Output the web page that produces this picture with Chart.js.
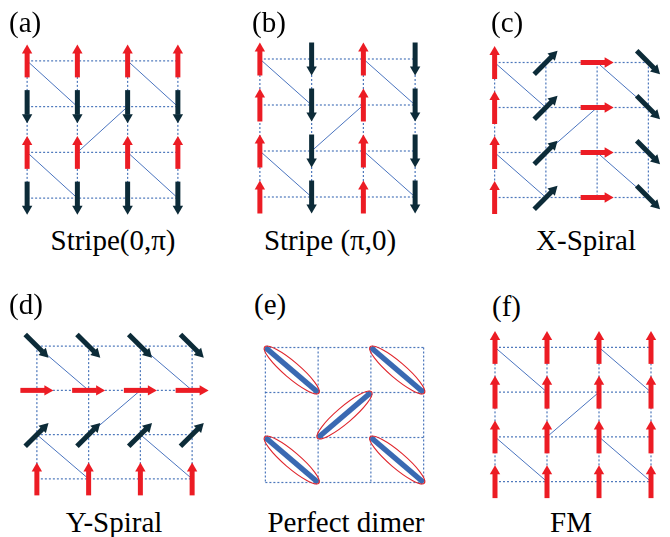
<!DOCTYPE html>
<html>
<head>
<meta charset="utf-8">
<script src="https://cdn.jsdelivr.net/npm/chart.js@4.4.1/dist/chart.umd.min.js"></script>
<style>
  html, body { margin: 0; padding: 0; background: #fff; }
  body { width: 670px; height: 537px; position: relative; overflow: hidden;
         font-family: "Liberation Serif", "DejaVu Serif", serif; color: #000; }
  .panel { position: absolute; }
  .tag, .cap { position: absolute; font-size: 29px; line-height: 29px; white-space: nowrap; }
  .cap { transform: translateX(-50%); }
</style>
</head>
<body>
<script>
// ---- lattice data -------------------------------------------------------
const panelTags = ['(a)', '(b)', '(c)', '(d)', '(e)', '(f)'];
const captions  = ['Stripe(0,π)', 'Stripe (π,0)', 'X-Spiral', 'Y-Spiral', 'Perfect dimer', 'FM'];

const latticeCols = [0, 1, 2, 3];
const latticeRows = [0, 1, 2, 3];

// spin directions in degrees (0 = +x, 90 = up); one array per row, top row first
const spinsStripe0Pi = [[90, 90, 90, 90], [270, 270, 270, 270], [90, 90, 90, 90], [270, 270, 270, 270]];
const spinsStripePi0 = [[90, 270, 90, 270], [90, 270, 90, 270], [90, 270, 90, 270], [90, 270, 90, 270]];
const spinsXSpiral   = [[90, 45, 0, -45], [90, 45, 0, -45], [90, 45, 0, -45], [90, 45, 0, -45]];
const spinsYSpiral   = [[-45, -45, -45, -45], [0, 0, 0, 0], [45, 45, 45, 45], [90, 90, 90, 90]];
const spinsFM        = [[90, 90, 90, 90], [90, 90, 90, 90], [90, 90, 90, 90], [90, 90, 90, 90]];

// diagonal (dimer) bonds: [col1, row1, col2, row2]
const dimerBonds = [[0, 0, 1, 1], [2, 0, 3, 1], [1, 2, 2, 1], [0, 2, 1, 3], [2, 2, 3, 3]];

// ---- styling --------------------------------------------------------------
const RED = '#ec1c24';
const NAVY = '#0c2b38';
const GRID = 'rgba(45, 95, 175, 0.85)';
const BOND = '#4a74bf';
const DIMER = '#3a69b2';
const RING = '#e0262d';

// up / right spins are red, the rest dark
const spinColor = a => (a === 0 || a === 90) ? RED : NAVY;

// panel layout: pixel position of column 0 / 3 and row 0 / 3, tag and caption anchors
const layout = [
  { box: [27, 178, 61, 198],  tag: [9, 8],     cap: [113, 226] },
  { box: [260, 415, 59, 197], tag: [252, 8],   cap: [330, 226] },
  { box: [495, 649, 62, 197], tag: [491, 8],   cap: [586, 226] },
  { box: [37, 192, 346, 479], tag: [9, 290],   cap: [114, 508] },
  { box: [265, 423, 347, 482], tag: [254, 290], cap: [346, 508] },
  { box: [495, 651, 347, 481], tag: [492, 292], cap: [571, 508] }
];
const panelSpins = [spinsStripe0Pi, spinsStripePi0, spinsXSpiral, spinsYSpiral, null, spinsFM];

// ---- drawing helpers ------------------------------------------------------
function drawArrow(ctx, x, y, deg, color) {
  const L = 33, head = 9, hw = 5.2, sw = 5;
  const t = deg * Math.PI / 180;
  const ux = Math.cos(t), uy = -Math.sin(t);
  const tx = x - ux * L / 2, ty = y - uy * L / 2;
  const px = x + ux * L / 2, py = y + uy * L / 2;
  const bx = px - ux * head, by = py - uy * head;
  ctx.save();
  ctx.strokeStyle = color;
  ctx.fillStyle = color;
  ctx.lineWidth = sw;
  ctx.lineCap = 'butt';
  ctx.beginPath();
  ctx.moveTo(tx, ty);
  ctx.lineTo(bx + ux * 0.6, by + uy * 0.6);
  ctx.stroke();
  ctx.beginPath();
  ctx.moveTo(px, py);
  ctx.lineTo(bx - uy * hw, by + ux * hw);
  ctx.lineTo(bx + uy * hw, by - ux * hw);
  ctx.closePath();
  ctx.fill();
  ctx.restore();
}

// draws spin arrows on the site dataset and rings round the dimer bonds
const latticeDecor = {
  id: 'latticeDecor',
  afterDatasetsDraw(chart) {
    const ctx = chart.ctx;
    chart.data.datasets.forEach((ds, i) => {
      const meta = chart.getDatasetMeta(i);
      if (ds.kind === 'sites') {
        meta.data.forEach((pt, j) => {
          const a = ds.data[j].a;
          drawArrow(ctx, pt.x, pt.y, a, spinColor(a));
        });
      }
      if (ds.kind === 'ring') {
        const p = meta.data[0], q = meta.data[1];
        const mx = (p.x + q.x) / 2, my = (p.y + q.y) / 2;
        const half = Math.hypot(q.x - p.x, q.y - p.y) / 2;
        ctx.save();
        ctx.strokeStyle = RING;
        ctx.lineWidth = 1.1;
        ctx.beginPath();
        ctx.ellipse(mx, my, half + 1, 8, Math.atan2(q.y - p.y, q.x - p.x), 0, Math.PI * 2);
        ctx.stroke();
        ctx.restore();
      }
    });
  }
};

function seg(x1, y1, x2, y2, extra) {
  return Object.assign({
    type: 'line',
    data: [{ x: x1, y: y1 }, { x: x2, y: y2 }],
    pointRadius: 0,
    pointHoverRadius: 0,
    fill: false,
    tension: 0,
    clip: false
  }, extra);
}

function buildDatasets(spins) {
  const ds = [];
  const dimerPanel = !spins;
  dimerBonds.forEach(b => {
    if (dimerPanel) {
      ds.push(seg(b[0], b[1], b[2], b[3], { kind: 'ring', borderColor: DIMER, borderWidth: 5.5, borderCapStyle: 'butt' }));
    } else {
      ds.push(seg(b[0], b[1], b[2], b[3], { borderColor: BOND, borderWidth: 1 }));
    }
  });
  latticeRows.forEach(r => ds.push(seg(latticeCols[0], r, latticeCols[latticeCols.length - 1], r,
    { borderColor: GRID, borderWidth: 1.2, borderDash: [2, 2] })));
  latticeCols.forEach(c => ds.push(seg(c, latticeRows[0], c, latticeRows[latticeRows.length - 1],
    { borderColor: GRID, borderWidth: 1.2, borderDash: [2, 2] })));
  if (spins) {
    const pts = [];
    latticeRows.forEach(r => latticeCols.forEach(c => pts.push({ x: c, y: r, a: spins[r][c] })));
    ds.push({ type: 'scatter', kind: 'sites', data: pts, pointRadius: 0, pointHoverRadius: 0, clip: false });
  }
  return ds;
}

// ---- build the six panels -------------------------------------------------
layout.forEach((lay, k) => {
  const [x0, x3, y0, y3] = lay.box;
  const sx = (x3 - x0) / 3, sy = (y3 - y0) / 3;
  const div = document.createElement('div');
  div.className = 'panel';
  const w = Math.round(4 * sx), h = Math.round(4 * sy);
  div.style.left = (x0 - 0.5 * sx) + 'px';
  div.style.top = (y0 - 0.5 * sy) + 'px';
  const cv = document.createElement('canvas');
  cv.width = w; cv.height = h;
  cv.style.width = w + 'px'; cv.style.height = h + 'px';
  div.appendChild(cv);
  document.body.appendChild(div);

  new Chart(cv, {
    type: 'scatter',
    data: { datasets: buildDatasets(panelSpins[k]) },
    options: {
      responsive: false,
      animation: false,
      devicePixelRatio: 1,
      layout: { padding: 0 },
      events: [],
      plugins: { legend: { display: false }, tooltip: { enabled: false } },
      scales: {
        x: { type: 'linear', min: -0.5, max: 3.5, display: false },
        y: { type: 'linear', min: -0.5, max: 3.5, reverse: true, display: false }
      }
    },
    plugins: [latticeDecor]
  });

  const tag = document.createElement('div');
  tag.className = 'tag';
  tag.textContent = panelTags[k];
  tag.style.left = lay.tag[0] + 'px';
  tag.style.top = lay.tag[1] + 'px';
  document.body.appendChild(tag);

  const cap = document.createElement('div');
  cap.className = 'cap';
  cap.textContent = captions[k];
  cap.style.left = lay.cap[0] + 'px';
  cap.style.top = lay.cap[1] + 'px';
  document.body.appendChild(cap);
});
</script>
</body>
</html>
